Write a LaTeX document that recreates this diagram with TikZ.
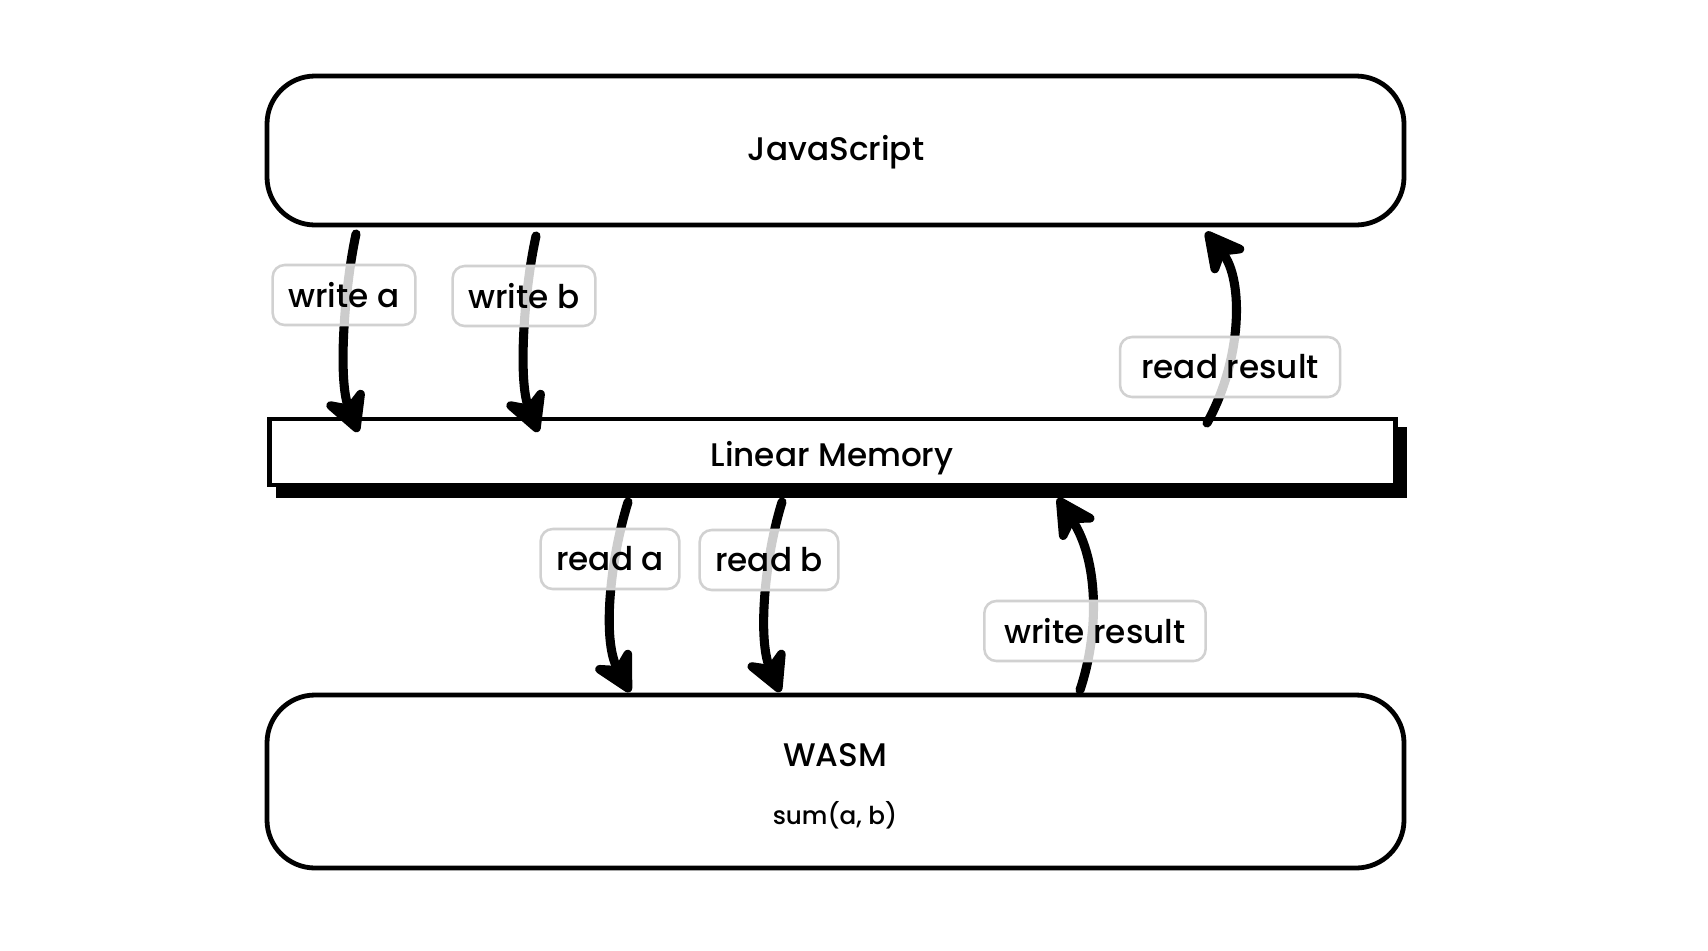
\documentclass[tikz,border=0pt]{standalone}
\usepackage{fontspec}
\setmainfont{Poppins Medium}
\usetikzlibrary{arrows.meta}
\begin{document}
\begin{tikzpicture}[x=0.75pt,y=-0.75pt,
  bigbox/.style={draw=black, line width=3.6pt, rounded corners=36pt, fill=white, inner sep=0pt},
  maintext/.style={inner sep=0pt, font=\fontsize{24.5}{28}\selectfont},
  smalltext/.style={inner sep=0pt, font=\fontsize{18.5}{21}\selectfont},
  lbl/.style={draw=black!18, line width=1.9pt, rounded corners=9pt, fill=white, fill opacity=0.8, text opacity=1,
    minimum height=45pt, inner sep=0pt, font=\fontsize{24.5}{28}\selectfont},
  flow/.style={line width=6.8pt, line cap=round, line join=round,
    -{Stealth[length=38pt, width=40pt, inset=12pt, round]}}
]
\useasboundingbox (0,0) rectangle (1708,950);
\fill[white] (0,0) rectangle (1708,950);

% JavaScript box
\node[bigbox, minimum width=852.75pt, minimum height=111.75pt] (js) at (835.5,150.5) {};
\node[maintext] (jstext) at (836,152) {JavaScript};

% Linear memory with hard shadow
\fill[black] (276,427) rectangle (1407,498);
\node[draw=black, fill=white, line width=3.6pt, inner sep=0pt, minimum width=844.5pt, minimum height=49.5pt] (mem) at (832.5,452) {};
\node[maintext] (memtext) at (832,458) {Linear Memory};

% WASM box
\node[bigbox, minimum width=852.75pt, minimum height=129.75pt] (wasm) at (835.5,781.5) {};
\node[maintext] (wasmtext) at (835,755) {WASM};
\node[smalltext] (wasmsum) at (835,815) {sum(a, b)};

% arrow end points
\coordinate (wa1) at (356,234);
\coordinate (wa2) at (358,432);
\coordinate (wb1) at (536,236);
\coordinate (wb2) at (538,432);
\coordinate (rr1) at (1207,423);
\coordinate (rr2) at (1206,232);
\coordinate (ra1) at (628,502);
\coordinate (ra2) at (630,692);
\coordinate (rb1) at (782,502);
\coordinate (rb2) at (780,692);
\coordinate (wr1) at (1080,690);
\coordinate (wr2) at (1058,498);

\draw[flow] (wa1) .. controls (344,290) and (338,380) .. (wa2);
\draw[flow] (wb1) .. controls (524,290) and (518,380) .. (wb2);
\draw[flow] (rr1) .. controls (1242,360) and (1244,280) .. (rr2);
\draw[flow] (ra1) .. controls (610,560) and (602,640) .. (ra2);
\draw[flow] (rb1) .. controls (764,560) and (758,640) .. (rb2);
\draw[flow] (wr1) .. controls (1100,630) and (1098,560) .. (wr2);

% labels
\node[lbl, minimum width=107pt] (lwa) at (344,295) {write a};
\node[lbl, minimum width=107pt] (lwb) at (524,296) {write b};
\node[lbl, minimum width=165pt] (lrr) at (1230,367) {read result};
\node[lbl, minimum width=104pt] (lra) at (610,559) {read a};
\node[lbl, minimum width=104pt] (lrb) at (769,560) {read b};
\node[lbl, minimum width=166pt] (lwr) at (1095,631) {write result};
\end{tikzpicture}
\end{document}
